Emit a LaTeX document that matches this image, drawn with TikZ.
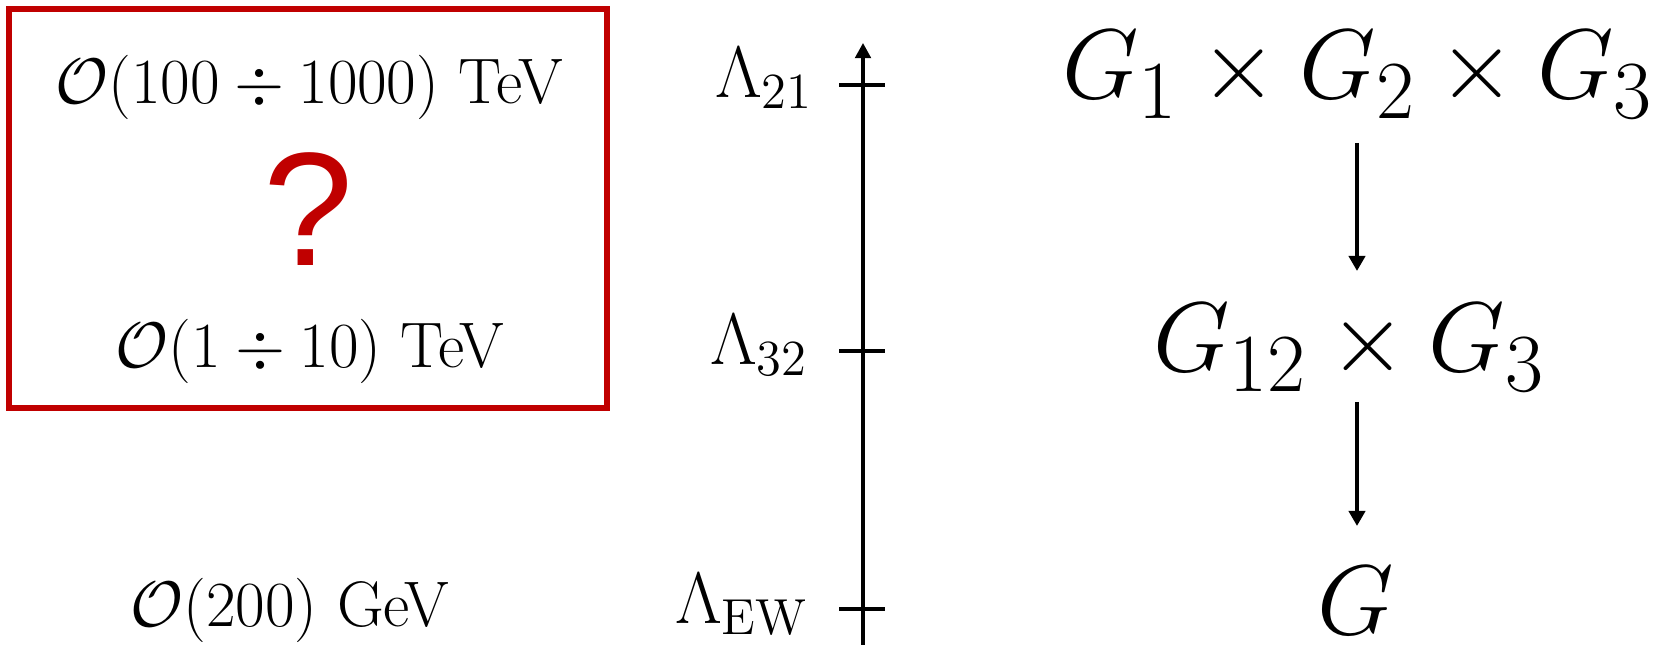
\documentclass[tikz,border=0pt]{standalone}
\usepackage{amsmath,amssymb}
\usepackage{fontspec}
\newfontfamily\qmarkfont{Liberation Sans}
\usetikzlibrary{arrows.meta,positioning}
\definecolor{boxred}{RGB}{192,0,0}

\begin{document}
\begin{tikzpicture}[line join=miter,
  scalelabel/.style={font=\fontsize{17.28}{21}\selectfont,scale=1.06,
    anchor=base,inner sep=0pt},
  lambdalabel/.style={font=\fontsize{20.74}{25}\selectfont,anchor=base east,inner sep=0pt},
  grouplabel/.style={font=\fontsize{24.88}{30}\selectfont,scale=1.133,
    anchor=base,inner sep=0pt},
  scaleaxis/.style={line width=1pt},
  breaking/.style={line width=1.1pt,-{Triangle[length=4.3pt,width=4.6pt]}}]
  \useasboundingbox (0,0) rectangle (16.66,6.45);
  % unknown high scales
  \draw[boxred,line width=1.7pt] (0.09,2.37) rectangle (6.07,6.36);
  \node[scalelabel] (e21) at (3.09,5.41) {$\mathcal{O}(100\div 1000)$ TeV};
  \node[font=\qmarkfont\fontsize{46}{50}\selectfont,text=boxred]
    (qmark) at (3.08,4.36) {?};
  \node[scalelabel] (e32) at (3.10,2.77) {$\mathcal{O}(1\div 10)$ TeV};
  \node[scalelabel] (eew) at (2.90,0.18) {$\mathcal{O}(200)$ GeV};
  % energy axis with ticks
  \coordinate (axbot) at (8.63,-0.10);
  \coordinate (axtop) at (8.63,6.02);
  \draw[scaleaxis,-{Triangle[length=4.3pt,width=4.4pt]}] (axbot) -- (axtop);
  \foreach \y in {5.60,2.94,0.36}
    \draw[scaleaxis] (8.39,\y) -- (8.85,\y);
  \node[lambdalabel] (l21) at (8.14,5.47) {$\Lambda_{21}$};
  \node[lambdalabel] (l32) at (8.09,2.80) {$\Lambda_{32}$};
  \node[lambdalabel] (lew) at (8.09,0.21) {$\Lambda_{\mathrm{EW}}$};
  % symmetry breaking chain
  \node[grouplabel] (g123) at (13.58,5.46) {$G_1\times G_2\times G_3$};
  \node[grouplabel] (g12) at (13.49,2.73) {$G_{12}\times G_3$};
  \node[grouplabel] (g) at (13.56,0.10) {$G$};
  \draw[breaking] (13.57,5.02) -- (13.57,3.74);
  \draw[breaking] (13.57,2.43) -- (13.57,1.19);
\end{tikzpicture}
\end{document}
